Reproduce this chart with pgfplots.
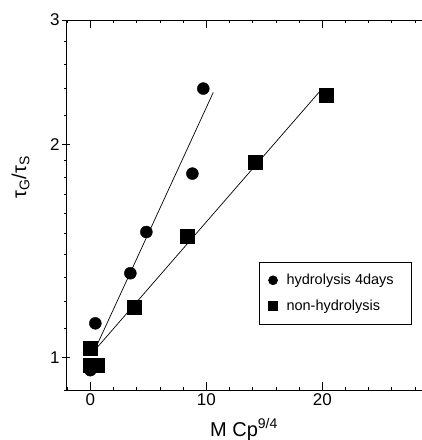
\documentclass[border=0pt]{standalone}
\usepackage{fontspec}
\setmainfont{Liberation Sans}
\usepackage{pgfplots}
\pgfplotsset{compat=1.18}
\newcommand{\tickfont}{\fontsize{17pt}{19pt}\selectfont}
\newcommand{\labfont}{\fontsize{20pt}{22pt}\selectfont}
\newcommand{\legfont}{\fontsize{14.5pt}{16pt}\selectfont}
\begin{document}
\begin{tikzpicture}
\begin{axis}[
  scale only axis, width=356pt, height=370pt,
  xmin=-2.1, xmax=28.6, ymin=0.9, ymax=3, ymode=log,
  axis x line=box, axis y line=left, axis line style={-, line width=0.8pt},
  xtick={0,10,20}, minor xtick={-2,2,4,6,8,12,14,16,18,22,24,26,28},
  ytick={1,2,3}, yticklabels={1,2,3},
  minor ytick={0.9,1.1,1.2,1.3,1.4,1.5,1.6,1.7,1.8,1.9,2.2,2.4,2.6,2.8},
  major tick length=8pt, minor tick length=3pt,
  tick style={black, line width=0.7pt},
  /pgf/number format/assume math mode=true,
  every tick label/.append style={font=\tickfont},
  yticklabel style={xshift=1pt},
  xlabel={\labfont M Cp\textsuperscript{9/4}},
  xlabel style={yshift=-6pt},
  ylabel={\labfont τ\textsubscript{G}/τ\textsubscript{S}},
  ylabel style={at={([xshift=-33pt]rel axis cs:0,0.575)}, anchor=south},
  legend style={at={(0.972,0.346)}, anchor=north east, draw=black, line width=0.6pt,
    font=\legfont, row sep=10pt, inner xsep=9pt, inner ysep=10pt,
    nodes={inner xsep=9pt}},
  legend cell align=left,
  legend image post style={mark size=4.5pt},
]
\addplot[only marks, mark=*, mark size=6pt, black] coordinates {
  (0,0.96) (0.43,1.118) (3.45,1.316) (4.83,1.505) (8.8,1.82) (9.74,2.40)};
\addlegendentry{\legfont hydrolysis 4days}
\addplot[only marks, mark=square*, mark size=7pt, black] coordinates {
  (0,1.03) (0,0.975) (0.6,0.975) (3.8,1.18) (8.36,1.486) (14.2,1.886) (20.3,2.35)};
\addlegendentry{\legfont non-hydrolysis}
\addplot[black, line width=0.7pt, forget plot] coordinates {(0.35,1.023) (10.6,2.37)};
\addplot[black, line width=0.7pt, forget plot] coordinates {(0.35,1.023) (19.9,2.39)};
\coordinate (sw) at (rel axis cs:0,0);
\coordinate (ne) at (rel axis cs:1,1);
\end{axis}
\pgfresetboundingbox
\path ([shift={(-66pt,-50pt)}]sw) rectangle ([shift={(0pt,20pt)}]ne);
\end{tikzpicture}
\end{document}
